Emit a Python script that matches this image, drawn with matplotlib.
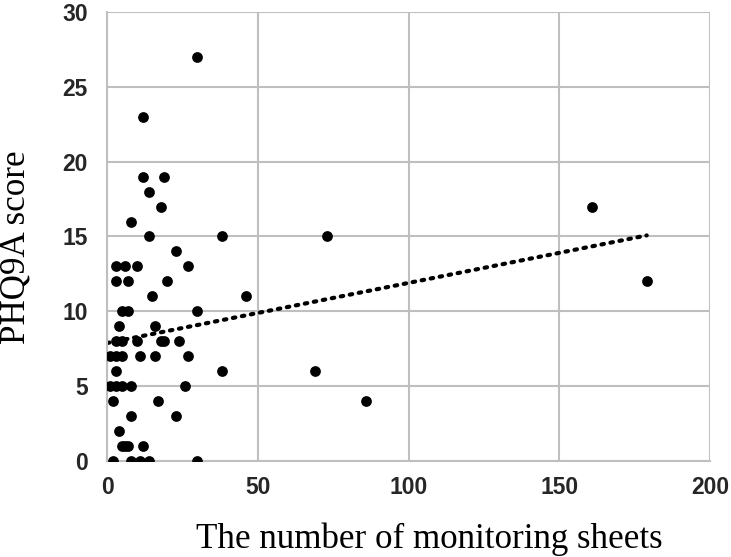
import numpy as np
import matplotlib.pyplot as plt

# monitoring sheets vs PHQ9A score
sheets = [12, 12, 19, 14, 18, 8, 14, 38, 23, 3, 6, 10, 27, 3, 7, 20,
          15, 46, 5, 7, 30, 4, 16, 3, 5, 10, 18, 19, 24,
          1, 3, 5, 11, 16, 27, 3, 38, 1, 3, 5, 8, 26,
          2, 17, 8, 23, 4, 5, 6, 7, 12, 2, 8, 11, 14, 30,
          30, 73, 69, 86, 161, 179]
scores = [23, 19, 19, 18, 17, 16, 15, 15, 14, 13, 13, 13, 13, 12, 12, 12,
          11, 11, 10, 10, 10, 9, 9, 8, 8, 8, 8, 8, 8,
          7, 7, 7, 7, 7, 7, 6, 6, 5, 5, 5, 5, 5,
          4, 4, 3, 3, 2, 1, 1, 1, 1, 0, 0, 0, 0, 0,
          27, 15, 6, 4, 17, 12]

x = np.array(sheets, dtype=float)
y = np.array(scores, dtype=float)

fig = plt.figure(figsize=(7.31, 5.57), dpi=100)
ax = fig.add_axes([0.1464, 0.1724, 0.8249, 0.8061])

ax.scatter(x, y, s=60, color='black', zorder=3, linewidths=0)

# linear trend line
k, b = np.polyfit(x, y, 1)
xt = np.array([x.min() - 1, x.max()])
ax.plot(xt, k * xt + b, color='black', linestyle=(0, (0.6, 1.6)),
        linewidth=3, dash_capstyle='round', zorder=2)

ax.set_xlim(0, 200)
ax.set_ylim(0, 30)
ax.set_xticks([0, 50, 100, 150, 200])
ax.set_yticks([0, 5, 10, 15, 20, 25, 30])
ax.grid(True, color='#bfbfbf', linewidth=1.5)
ax.set_axisbelow(True)
for s in ax.spines.values():
    s.set_visible(False)
ax.spines['left'].set_visible(True)
ax.spines['bottom'].set_visible(True)
ax.spines['left'].set_color('#bfbfbf')
ax.spines['bottom'].set_color('#bfbfbf')
ax.spines['left'].set_linewidth(1.5)
ax.spines['bottom'].set_linewidth(1.5)
ax.tick_params(axis='y', length=0, pad=14, labelsize=16.5, colors='#262626')
ax.tick_params(axis='x', length=0, pad=11, labelsize=16.5, colors='#262626')
for lab in ax.get_xticklabels() + ax.get_yticklabels():
    lab.set_fontfamily('Liberation Sans')
    lab.set_fontweight('bold')

ax.set_xlabel('The number of monitoring sheets', fontsize=25.2,
              family='Liberation Serif')
ax.set_ylabel('PHQ9A score', fontsize=25.2, family='Liberation Serif')
ax.xaxis.set_label_coords(0.534, -0.138)
ax.yaxis.set_label_coords(-0.124, 0.477)

fig.savefig('out.png', dpi=100)
